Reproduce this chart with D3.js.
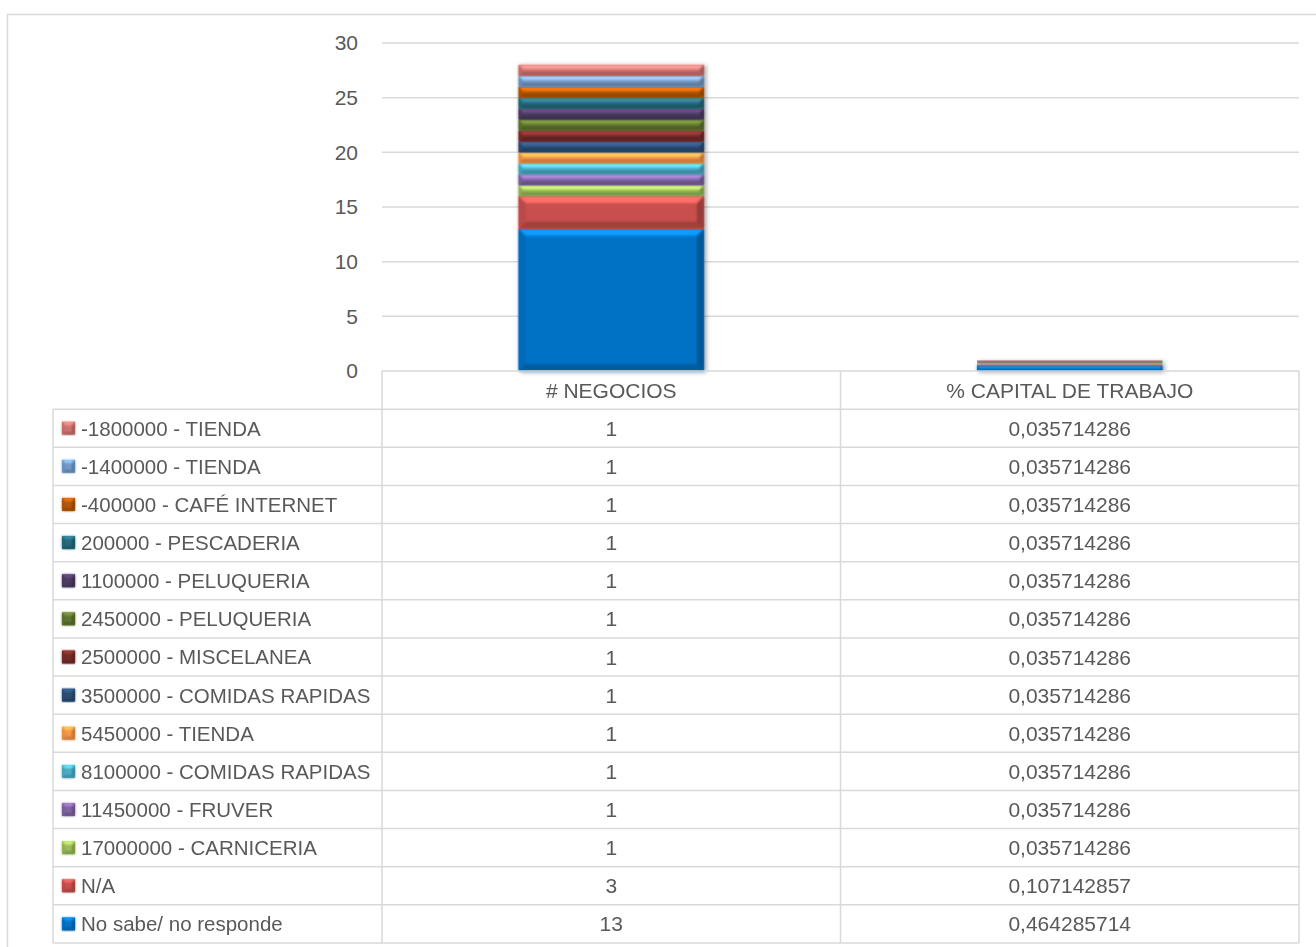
<!DOCTYPE html>
<html>
<head>
<meta charset="utf-8">
<script src="https://cdn.jsdelivr.net/npm/d3@7"></script>
<style>
  body { margin: 0; background: #fff; }
  svg { display: block; font-family: "Liberation Sans", Arial, sans-serif; }
</style>
</head>
<body>
<svg id="chart"></svg>
<script>
var svgWidth = 1316;
var svgHeight = 947;

// categories (columns of the data table)
var categories = ["# NEGOCIOS", "% CAPITAL DE TRABAJO"];

// series, from bottom of the stack to top
var seriesNames = [
  "No sabe/ no responde",
  "N/A",
  "17000000 - CARNICERIA",
  "11450000 - FRUVER",
  "8100000 - COMIDAS RAPIDAS",
  "5450000 - TIENDA",
  "3500000 - COMIDAS RAPIDAS",
  "2500000 - MISCELANEA",
  "2450000 - PELUQUERIA",
  "1100000 - PELUQUERIA",
  "200000 - PESCADERIA",
  "-400000 - CAFÉ INTERNET",
  "-1400000 - TIENDA",
  "-1800000 - TIENDA"
];

var negocios = [13, 3, 1, 1, 1, 1, 1, 1, 1, 1, 1, 1, 1, 1];
var capital = [0.464285714, 0.107142857, 0.035714286, 0.035714286, 0.035714286,
  0.035714286, 0.035714286, 0.035714286, 0.035714286, 0.035714286,
  0.035714286, 0.035714286, 0.035714286, 0.035714286];

var colors = ["#0672c6", "#c8504d", "#9bbb59", "#8064a2", "#4bacc6", "#f79646",
  "#2c4d75", "#772c2a", "#5f7530", "#4d3b62", "#276a7c", "#b65708",
  "#729aca", "#d07370"];

var yTicks = [0, 5, 10, 15, 20, 25, 30];

var textColor = "#595959";
var lineColor = "#d9d9d9";
var fontSize = 21;

var svg = d3.select("#chart")
  .attr("width", svgWidth)
  .attr("height", svgHeight);

// outer chart frame
svg.append("rect")
  .attr("x", 7.5).attr("y", 14.5)
  .attr("width", 1330).attr("height", 950)
  .attr("fill", "#fff")
  .attr("stroke", lineColor)
  .attr("stroke-width", 1.5);

var defs = svg.append("defs");
var shadow = defs.append("filter").attr("id", "shadow")
  .attr("x", "-10%").attr("y", "-10%").attr("width", "130%").attr("height", "130%");
shadow.append("feDropShadow")
  .attr("dx", 2).attr("dy", 1).attr("stdDeviation", 2)
  .attr("flood-color", "#000").attr("flood-opacity", 0.35);
var soft = defs.append("filter").attr("id", "soft");
soft.append("feGaussianBlur").attr("stdDeviation", 0.9);

var plotLeft = 382, plotRight = 1299, plotTop = 43, plotBottom = 371;

var x = d3.scaleBand()
  .domain(categories)
  .range([plotLeft, plotRight]);

var y = d3.scaleLinear()
  .domain([0, 30])
  .range([plotBottom, plotTop]);

// gridlines
svg.append("g")
  .selectAll("line")
  .data(yTicks.filter(function(d) { return d > 0; }))
  .enter()
  .append("line")
  .attr("x1", plotLeft).attr("x2", plotRight)
  .attr("y1", function(d) { return y(d); })
  .attr("y2", function(d) { return y(d); })
  .attr("stroke", lineColor)
  .attr("stroke-width", 1.5);

// y axis labels
var yAxis = svg.append("g")
  .attr("transform", "translate(" + (plotLeft - 24) + ",0)")
  .call(d3.axisLeft(y).tickValues(yTicks).tickSize(0).tickPadding(0));
yAxis.select(".domain").remove();
yAxis.selectAll("text")
  .attr("fill", textColor)
  .attr("font-size", fontSize)
  .attr("font-family", "Liberation Sans, Arial, sans-serif");

// stacked data
var table = categories.map(function(c, ci) {
  var row = { cat: c };
  seriesNames.forEach(function(s, i) {
    row[s] = ci === 0 ? negocios[i] : capital[i];
  });
  return row;
});
var stacked = d3.stack().keys(seriesNames)(table);

// bevelled block like the excel 3d bars
function bevelBlock(g, x0, y0, w, h, color, maxB) {
  var c = d3.color(color);
  var b = Math.min(maxB, h / 2.6, w / 4);
  var x1 = x0 + w, y1 = y0 + h;
  g.append("rect")
    .attr("x", x0).attr("y", y0).attr("width", w).attr("height", h)
    .attr("fill", color);
  if (b < 0.3) return;
  var bev = g.append("g").attr("filter", "url(#soft)");
  var poly = function(pts, fill) {
    bev.append("polygon")
      .attr("points", pts.map(function(p) { return p.join(","); }).join(" "))
      .attr("fill", fill);
  };
  poly([[x0, y0], [x1, y0], [x1 - b, y0 + b], [x0 + b, y0 + b]], c.brighter(0.9).formatHex());
  poly([[x0, y1], [x1, y1], [x1 - b, y1 - b], [x0 + b, y1 - b]], c.darker(0.6).formatHex());
  poly([[x0, y0], [x0 + b, y0 + b], [x0 + b, y1 - b], [x0, y1]], c.darker(0.2).formatHex());
  poly([[x1, y0], [x1 - b, y0 + b], [x1 - b, y1 - b], [x1, y1]], c.darker(0.8).formatHex());
}

var barWidth = x.bandwidth() * 0.404;
var bars = svg.append("g").attr("filter", "url(#shadow)");

stacked.forEach(function(layer, i) {
  layer.forEach(function(d) {
    var cx = x(d.data.cat) + x.bandwidth() / 2;
    var top = y(d[1]);
    var h = y(d[0]) - y(d[1]);
    bevelBlock(bars.append("g"), cx - barWidth / 2, top, barWidth, h, colors[i], 7);
  });
});

// data table
var tableLeft = 53, tableTop = plotBottom, tableBottom = 943;
var rowH = (tableBottom - tableTop) / (seriesNames.length + 1);
var rows = seriesNames.map(function(s, i) {
  return { name: s, idx: i, neg: negocios[i], cap: capital[i] };
}).reverse();

var fmt = function(v) { return d3.format(".9f")(v).replace(".", ","); };
var fmtInt = d3.format("d");

var grid = svg.append("g")
  .attr("stroke", lineColor)
  .attr("stroke-width", 1.5);

// header top line
grid.append("line")
  .attr("x1", plotLeft).attr("x2", plotRight)
  .attr("y1", tableTop).attr("y2", tableTop);
// row lines
d3.range(1, seriesNames.length + 2).forEach(function(k) {
  var yy = tableTop + k * rowH;
  grid.append("line")
    .attr("x1", tableLeft).attr("x2", plotRight)
    .attr("y1", yy).attr("y2", yy);
});
// vertical lines
grid.append("line")
  .attr("x1", tableLeft).attr("x2", tableLeft)
  .attr("y1", tableTop + rowH).attr("y2", tableBottom);
[plotLeft].concat(categories.map(function(c) { return x(c) + x.bandwidth(); }))
  .forEach(function(xx) {
    grid.append("line")
      .attr("x1", xx).attr("x2", xx)
      .attr("y1", tableTop).attr("y2", tableBottom);
  });

var txt = svg.append("g")
  .attr("fill", textColor)
  .attr("font-size", fontSize);

// header
categories.forEach(function(c) {
  txt.append("text")
    .attr("x", x(c) + x.bandwidth() / 2)
    .attr("y", tableTop + rowH / 2)
    .attr("dy", "0.36em")
    .attr("text-anchor", "middle")
    .text(c);
});

rows.forEach(function(r, k) {
  var cy = tableTop + (k + 1) * rowH + rowH / 2;
  var key = svg.append("g");
  bevelBlock(key, 62, cy - 6.5, 13, 13, colors[r.idx], 3);
  txt.append("text")
    .attr("x", 81).attr("y", cy).attr("dy", "0.36em")
    .attr("font-size", 20.5)
    .text(r.name);
  txt.append("text")
    .attr("x", x(categories[0]) + x.bandwidth() / 2)
    .attr("y", cy).attr("dy", "0.36em")
    .attr("text-anchor", "middle")
    .text(fmtInt(r.neg));
  txt.append("text")
    .attr("x", x(categories[1]) + x.bandwidth() / 2)
    .attr("y", cy).attr("dy", "0.36em")
    .attr("text-anchor", "middle")
    .text(fmt(r.cap));
});
</script>
</body>
</html>
